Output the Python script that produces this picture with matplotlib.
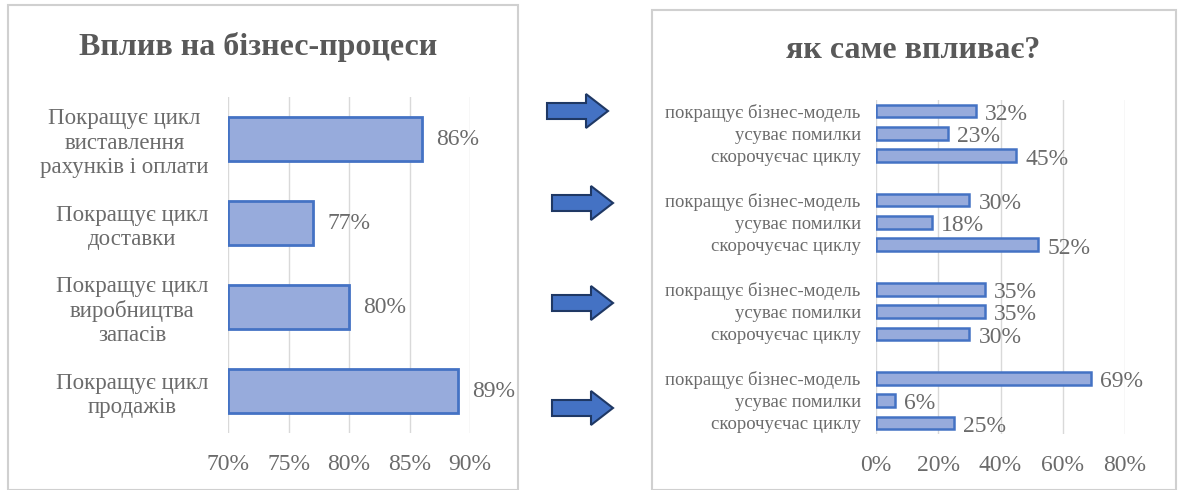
import matplotlib
matplotlib.use("Agg")
import matplotlib.pyplot as plt
from matplotlib.patches import Rectangle, Polygon
import numpy as np

plt.rcParams['font.family'] = ['Liberation Serif', 'DejaVu Serif']

# left chart data (top to bottom)
left_labels = ["Покращує цикл\nвиставлення\nрахунків і оплати",
               "Покращує цикл\nдоставки",
               "Покращує цикл\nвиробництва\nзапасів",
               "Покращує цикл\nпродажів"]
left_values = [86, 77, 80, 89]
left_ticks = [70, 75, 80, 85, 90]

# right chart data, 4 groups of 3 (top to bottom)
right_cats = ["покращує бізнес-модель", "усуває помилки", "скорочуєчас циклу"]
right_values = [[32, 23, 45],
                [30, 18, 52],
                [35, 35, 30],
                [69, 6, 25]]
right_ticks = [0, 20, 40, 60, 80]

W, H = 1182, 490
fig = plt.figure(figsize=(W / 100, H / 100), dpi=100)
fig.patch.set_facecolor('white')

txt = '#6b6b6b'
grid = '#d9d9d9'
bar_fc = '#97abdc'
bar_ec = '#4472c4'

def px(x0, y0, x1, y1):
    return [x0 / W, 1 - y1 / H, (x1 - x0) / W, (y1 - y0) / H]

# panel borders
fig.patches.append(Rectangle((8 / W, 0), 510 / W, 1 - 5 / H, transform=fig.transFigure,
                             fill=False, ec='#d0d0d0', lw=1.5))
fig.patches.append(Rectangle((652 / W, 0), 524 / W, 1 - 10 / H, transform=fig.transFigure,
                             fill=False, ec='#d0d0d0', lw=1.5))

# ---- left chart
ax = fig.add_axes(px(228, 97, 470, 433))
ypos = np.arange(len(left_values))
ax.barh(ypos, [v - 70 for v in left_values], left=70, height=0.52,
        color=bar_fc, edgecolor=bar_ec, linewidth=2)
for y, v in zip(ypos, left_values):
    ax.text(v + 1.2, y, f"{v}%", va='center', ha='left', fontsize=17, color=txt)
ax.set_xlim(70, 90)
ax.set_ylim(len(left_values) - 0.5, -0.5)
ax.set_xticks(left_ticks)
ax.set_xticklabels([f"{t}%" for t in left_ticks], fontsize=17, color=txt)
ax.set_yticks(ypos)
ax.set_yticklabels(left_labels, fontsize=16.5, color=txt, linespacing=1.2)
for t in ax.get_yticklabels():
    t.set_multialignment('center')
ax.tick_params(axis='y', length=0, pad=14)
ax.tick_params(axis='x', length=0, pad=15)
ax.grid(axis='x', color=grid, lw=1)
ax.set_axisbelow(True)
for s in ax.spines.values():
    s.set_visible(False)
fig.text(258 / W, 1 - 47 / H, "Вплив на бізнес-процеси", ha='center', va='center',
         fontsize=23, fontweight='bold', color='#595959')

# ---- right chart
ax2 = fig.add_axes(px(876, 100, 1125, 434))
pos, vals, labs = [], [], []
for g, grp in enumerate(right_values):
    for i, v in enumerate(grp):
        pos.append(g * 4 + i)
        vals.append(v)
        labs.append(right_cats[i])
ax2.barh(pos, vals, height=0.56, color=bar_fc, edgecolor=bar_ec, linewidth=1.8)
for y, v in zip(pos, vals):
    ax2.text(v + 3.0, y + 0.15, f"{v}%", va='center', ha='left', fontsize=17, color=txt)
ax2.set_xlim(0, 80)
ax2.set_ylim(14.5, -0.5)
ax2.set_xticks(right_ticks)
ax2.set_xticklabels([f"{t}%" for t in right_ticks], fontsize=17, color=txt)
ax2.set_yticks(pos)
ax2.set_yticklabels(labs, fontsize=13.5, color=txt)
ax2.tick_params(axis='y', length=0, pad=11)
ax2.tick_params(axis='x', length=0, pad=15)
ax2.grid(axis='x', color=grid, lw=1)
ax2.set_axisbelow(True)
for s in ax2.spines.values():
    s.set_visible(False)
fig.text(913 / W, 1 - 50 / H, "як саме впливає?", ha='center', va='center',
         fontsize=23, fontweight='bold', color='#595959')

# ---- arrows between the charts
for x0, yc in [(547, 111), (552, 203), (552, 303), (552, 408)]:
    pts = [(x0, yc - 8), (x0 + 39, yc - 8), (x0 + 39, yc - 17), (x0 + 61, yc),
           (x0 + 39, yc + 17), (x0 + 39, yc + 8), (x0, yc + 8)]
    pts = [(x / W, 1 - y / H) for x, y in pts]
    fig.patches.append(Polygon(pts, closed=True, transform=fig.transFigure,
                               fc='#4472c4', ec='#1f3864', lw=1.5))

fig.savefig("out.png", dpi=100)
